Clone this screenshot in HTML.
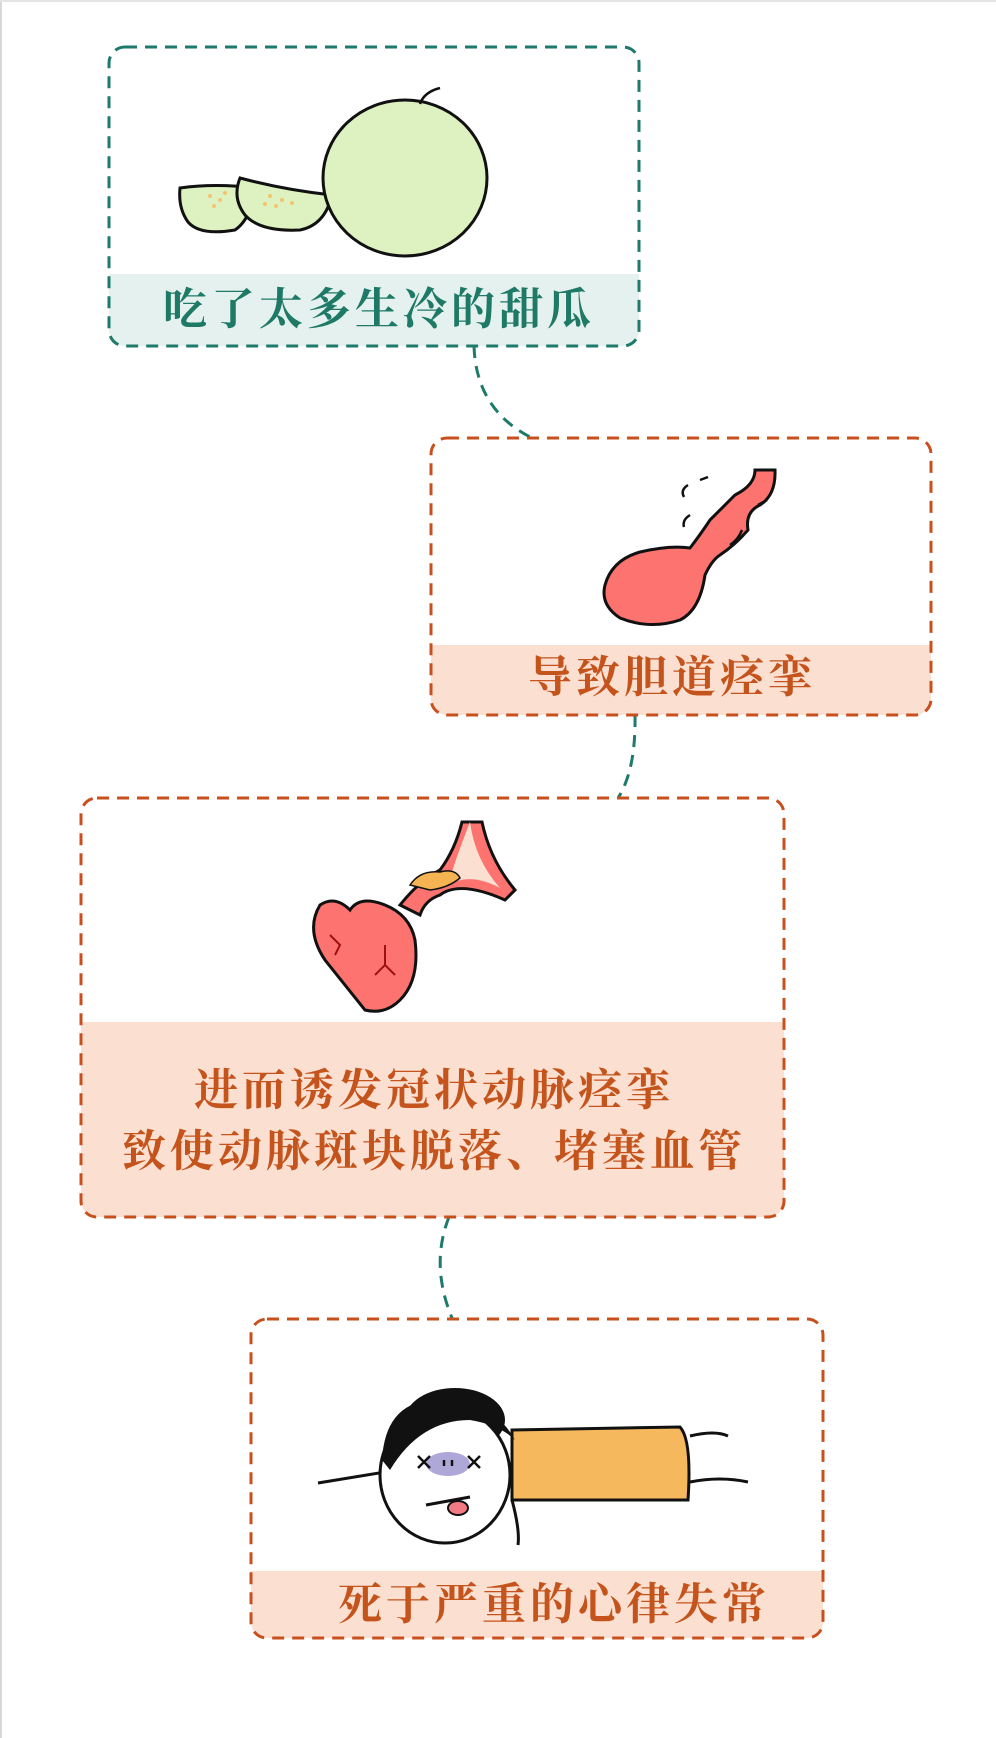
<!DOCTYPE html>
<html><head><meta charset="utf-8"><style>
html,body{margin:0;padding:0;background:#fff;}
svg{display:block;}
text{font-family:"Liberation Serif","Noto Serif CJK SC","Noto Sans CJK SC",serif;font-weight:bold;}
</style></head><body>
<svg width="996" height="1738" viewBox="0 0 996 1738" xmlns="http://www.w3.org/2000/svg">
<line x1="1" y1="0" x2="1" y2="1738" stroke="#d8d8d8" stroke-width="2"/>
<line x1="0" y1="1" x2="996" y2="1" stroke="#e4e4e4" stroke-width="2"/>

<!-- connectors -->
<path d="M474 346 Q476 410 532 438" fill="none" stroke="#1e7a6a" stroke-width="3" stroke-dasharray="12 8"/>
<path d="M635 715 Q636 770 618 798" fill="none" stroke="#1e7a6a" stroke-width="3" stroke-dasharray="12 8"/>
<path d="M449 1217 Q430 1265 452 1318" fill="none" stroke="#1e7a6a" stroke-width="3" stroke-dasharray="12 8"/>

<!-- box1 -->
<clipPath id="c1"><rect x="109" y="47" width="530" height="299" rx="16"/></clipPath>
<rect x="109" y="47" width="530" height="299" rx="16" fill="#fff"/>
<rect x="109" y="274" width="530" height="72" fill="#e5f1ee" clip-path="url(#c1)"/>
<rect x="109" y="47" width="530" height="299" rx="16" fill="none" stroke="#1e7a6a" stroke-width="3" stroke-dasharray="12 8"/>
<text x="379" y="324" font-size="44" fill="#1e7a66" text-anchor="middle" letter-spacing="4">吃了太多生冷的甜瓜</text>
<!-- melon -->
<path d="M180 188 Q215 183 257 188 Q250 220 235 230 Q200 236 188 222 Q178 208 180 188Z" fill="#ddf2c0" stroke="#111" stroke-width="3"/>
<path d="M240 178 Q285 190 332 195 Q325 225 300 230 Q260 232 245 215 Q232 198 240 178Z" fill="#ddf2c0" stroke="#111" stroke-width="3"/>
<g fill="#f3c46b"><circle cx="210" cy="196" r="2"/><circle cx="220" cy="200" r="2"/><circle cx="214" cy="206" r="2"/><circle cx="225" cy="193" r="2"/><circle cx="270" cy="196" r="2"/><circle cx="282" cy="200" r="2"/><circle cx="276" cy="206" r="2"/><circle cx="292" cy="203" r="2"/><circle cx="265" cy="204" r="2"/></g>
<ellipse cx="405" cy="178" rx="82" ry="78" fill="#ddf2c0" stroke="#111" stroke-width="3"/>
<path d="M420 104 Q424 92 440 88" fill="none" stroke="#111" stroke-width="2.5"/>

<!-- box2 -->
<clipPath id="c2"><rect x="431" y="438" width="500" height="277" rx="16"/></clipPath>
<rect x="431" y="438" width="500" height="277" rx="16" fill="#fff"/>
<rect x="431" y="645" width="500" height="70" fill="#fbe0d2" clip-path="url(#c2)"/>
<rect x="431" y="438" width="500" height="277" rx="16" fill="none" stroke="#c8501e" stroke-width="3" stroke-dasharray="12 8"/>
<text x="672" y="692" font-size="44" fill="#c4541c" text-anchor="middle" letter-spacing="4">导致胆道痉挛</text>
<!-- gallbladder -->
<path d="M755 470 L775 470 Q776 495 760 505 Q745 512 748 530 Q735 545 720 555 Q712 560 705 575 Q700 610 680 620 Q650 630 620 618 Q600 605 605 585 Q612 560 640 552 Q670 545 690 548 Q700 535 710 520 Q725 505 735 495 Q755 485 755 470Z" fill="#fc7370" stroke="#111" stroke-width="3"/>
<path d="M688 485 Q680 490 684 497 M700 480 L708 477 M690 515 Q682 520 684 527 M758 505 L767 500 M742 530 Q738 540 730 545" fill="none" stroke="#111" stroke-width="2.5"/>

<!-- box3 -->
<clipPath id="c3"><rect x="81" y="798" width="703" height="419" rx="16"/></clipPath>
<rect x="81" y="798" width="703" height="419" rx="16" fill="#fff"/>
<rect x="81" y="1022" width="703" height="195" fill="#fbe0d2" clip-path="url(#c3)"/>
<rect x="81" y="798" width="703" height="419" rx="16" fill="none" stroke="#c8501e" stroke-width="3" stroke-dasharray="12 8"/>
<text x="434" y="1105" font-size="44" fill="#c4541c" text-anchor="middle" letter-spacing="4">进而诱发冠状动脉痉挛</text>
<text x="434" y="1166" font-size="44" fill="#c4541c" text-anchor="middle" letter-spacing="4">致使动脉斑块脱落、堵塞血管</text>
<!-- heart -->
<path d="M462 822 L482 822 Q490 860 515 890 L505 900 Q460 880 440 895 Q425 900 420 915 L400 905 Q420 880 440 870 Q455 850 462 822Z" fill="#fc7370" stroke="#111" stroke-width="3"/>
<path d="M470 822 Q475 860 500 888 Q470 872 448 885 Q455 860 470 822Z" fill="#fbe0d2"/>
<path d="M410 885 Q420 870 440 872 Q455 868 460 878 Q448 888 430 890 Z" fill="#f6b352" stroke="#111" stroke-width="1.5"/>
<path d="M320 905 Q335 895 350 910 Q360 895 385 905 Q410 915 415 940 Q420 980 400 1000 Q385 1015 365 1010 Q345 985 325 960 Q305 930 320 905Z" fill="#fc7370" stroke="#111" stroke-width="3"/>
<path d="M330 935 L340 945 L335 955 M385 945 L385 965 L395 975 M385 965 L375 975" fill="none" stroke="#a01010" stroke-width="2"/>

<!-- box4 -->
<clipPath id="c4"><rect x="251" y="1319" width="572" height="319" rx="16"/></clipPath>
<rect x="251" y="1319" width="572" height="319" rx="16" fill="#fff"/>
<rect x="251" y="1571" width="572" height="67" fill="#fbe0d2" clip-path="url(#c4)"/>
<rect x="251" y="1319" width="572" height="319" rx="16" fill="none" stroke="#c8501e" stroke-width="3" stroke-dasharray="12 8"/>
<text x="554" y="1619" font-size="44" fill="#c4541c" text-anchor="middle" letter-spacing="4">死于严重的心律失常</text>
<!-- person -->
<path d="M318 1483 L385 1472 M690 1436 Q715 1430 728 1436 M690 1482 Q720 1476 748 1482" fill="none" stroke="#111" stroke-width="3"/>
<path d="M512 1430 L680 1427 Q692 1440 688 1500 L512 1500Z" fill="#f6b85c" stroke="#111" stroke-width="3"/>
<path d="M512 1500 Q520 1530 518 1545" fill="none" stroke="#111" stroke-width="3"/>
<ellipse cx="455" cy="1420" rx="50" ry="32" fill="#111"/>
<ellipse cx="445" cy="1475" rx="65" ry="68" fill="#fff" stroke="#111" stroke-width="3"/>
<path d="M382 1460 Q385 1405 430 1400 Q490 1395 515 1440 Q500 1425 470 1420 Q420 1420 390 1470Z" fill="#111"/>
<ellipse cx="448" cy="1464" rx="22" ry="12" fill="#8b83c9" opacity="0.7"/>
<path d="M418 1456 L430 1468 M430 1456 L418 1468 M468 1456 L480 1468 M480 1456 L468 1468 M444 1460 L444 1466 M452 1460 L452 1466" stroke="#111" stroke-width="2.5"/>
<path d="M426 1505 L470 1497" stroke="#111" stroke-width="3"/>
<ellipse cx="458" cy="1508" rx="10" ry="7" fill="#f27a85" stroke="#111" stroke-width="2"/>
</svg>
</body></html>
